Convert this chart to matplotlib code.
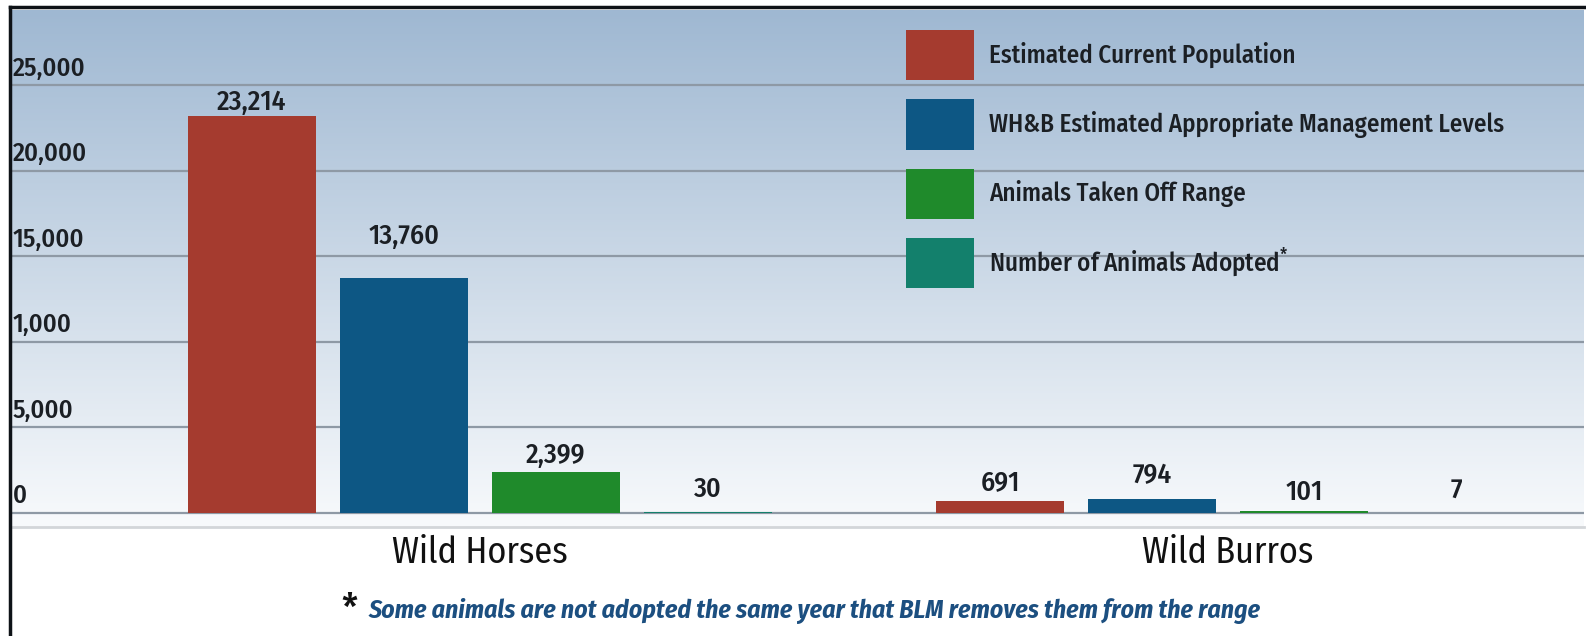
import matplotlib

matplotlib.use("Agg")
import matplotlib.pyplot as plt
import matplotlib.transforms as mtransforms
import numpy as np
from matplotlib.colors import LinearSegmentedColormap
from matplotlib.lines import Line2D

# ── data ──────────────────────────────────────────────────────────────
GROUPS = ["Wild Horses", "Wild Burros"]
SERIES = [
    "Estimated Current Population",
    "WH&B Estimated Appropriate Management Levels",
    "Animals Taken Off Range",
    "Number of Animals Adopted$^{*}$",
]
CURRENT_POP = [23214, 691]
AML = [13760, 794]
TAKEN_OFF = [2399, 101]
ADOPTED = [30, 7]
Y_TICKS = [0, 5000, 10000, 15000, 20000, 25000]
Y_TICK_LABELS = ["0", "5,000", "1,000", "15,000", "20,000", "25,000"]  # as printed
FOOTNOTE = "Some animals are not adopted the same year that BLM removes them from the range"

# ── style ─────────────────────────────────────────────────────────────
COLORS = ["#a53b2f", "#0d5784", "#1f8a2b", "#13806c"]
FONT = ["Fira Sans Condensed", "DejaVu Sans"]
INK, NOTE_BLUE, GRID = "#1b1f24", "#1c4f80", "#8e99a5"
LABEL_PAD = [[4.5, 24.0, 6.5, 11.0], [8.0, 11.5, 8.0, 11.0]]  # pt, per group/series
W, H = 1586, 636
STEP, BAR_W = 152 / 748, 128 / 748

plt.rcParams["font.family"] = FONT
plt.rcParams["font.weight"] = 500
plt.rcParams["mathtext.fontset"] = "custom"
plt.rcParams["mathtext.rm"] = "Fira Sans Condensed"

fig = plt.figure(figsize=(W / 100, H / 100), dpi=100)
ax = fig.add_axes([12 / W, 1 - 527 / H, (1584 - 12) / W, (527 - 10) / H])

xlim = (-0.6257, 1.476)
ylim = (-819, 29415)

# background gradient, steel blue at top fading to near white at the baseline
cmap = LinearSegmentedColormap.from_list("bg", ["#f8fafc", "#9fb8d2"])
ax.imshow(
    np.linspace(1, 0, 256).reshape(-1, 1),
    cmap=cmap,
    extent=(*xlim, *ylim),
    aspect="auto",
    zorder=0,
)

series_vals = [CURRENT_POP, AML, TAKEN_OFF, ADOPTED]
xg = np.arange(len(GROUPS))
for i, (name, vals, col) in enumerate(zip(SERIES, series_vals, COLORS)):
    xs = xg + (i - 1.5) * STEP
    ax.bar(xs, vals, width=BAR_W, color=col, label=name, zorder=3)
    for g, (x, v) in enumerate(zip(xs, vals)):
        ax.annotate(
            f"{v:,}",
            xy=(x, v),
            xytext=(0, LABEL_PAD[g][i]),
            textcoords="offset points",
            ha="center",
            va="baseline",
            fontsize=20,
            color=INK,
            zorder=4,
        )

ax.set_xlim(*xlim)
ax.set_ylim(*ylim)

ax.set_yticks(Y_TICKS, Y_TICK_LABELS)
ax.tick_params(axis="y", length=0, pad=0, labelsize=19, labelcolor=INK)
shift = mtransforms.ScaledTranslation(0.01, 0.095, fig.dpi_scale_trans)
for lab in ax.get_yticklabels():
    lab.set_horizontalalignment("left")
    lab.set_verticalalignment("baseline")
    lab.set_transform(lab.get_transform() + shift)
ax.grid(axis="y", color=GRID, lw=1.6, zorder=1)
ax.set_axisbelow(True)

ax.set_xticks(xg, GROUPS)
ax.tick_params(axis="x", length=0, pad=6, labelsize=26, labelcolor="#111111")
for lab in ax.get_xticklabels():
    lab.set_fontweight("normal")

for side in ("top", "right", "left"):
    ax.spines[side].set_visible(False)
ax.spines["bottom"].set_color("#d3d6d9")
ax.spines["bottom"].set_linewidth(2)

ax.legend(
    loc="upper left",
    bbox_to_anchor=(906 / W, 1 - 30 / H),
    bbox_transform=fig.transFigure,
    frameon=False,
    fontsize=18,
    handlelength=2.72,
    handleheight=2.72,
    labelspacing=0.76,
    handletextpad=0.6,
    borderpad=0,
    borderaxespad=0,
    labelcolor=INK,
)

# footnote
fig.text(349 / W, 1 - 611 / H, "*", fontsize=28, ha="center", va="center",
         color="#111111")
fig.text(369 / W, 1 - 611 / H, FOOTNOTE, fontsize=18.5, ha="left", va="center",
         color=NOTE_BLUE, fontweight="bold", fontstyle="italic")

# black frame on the top and left edges
fig.add_artist(Line2D([10 / W, 1], [1 - 7 / H] * 2, transform=fig.transFigure,
                      color="#0e1217", lw=2.5))
fig.add_artist(Line2D([10 / W] * 2, [0, 1 - 7 / H], transform=fig.transFigure,
                      color="#0e1217", lw=2.5))

fig.savefig("out.png", dpi=100)
